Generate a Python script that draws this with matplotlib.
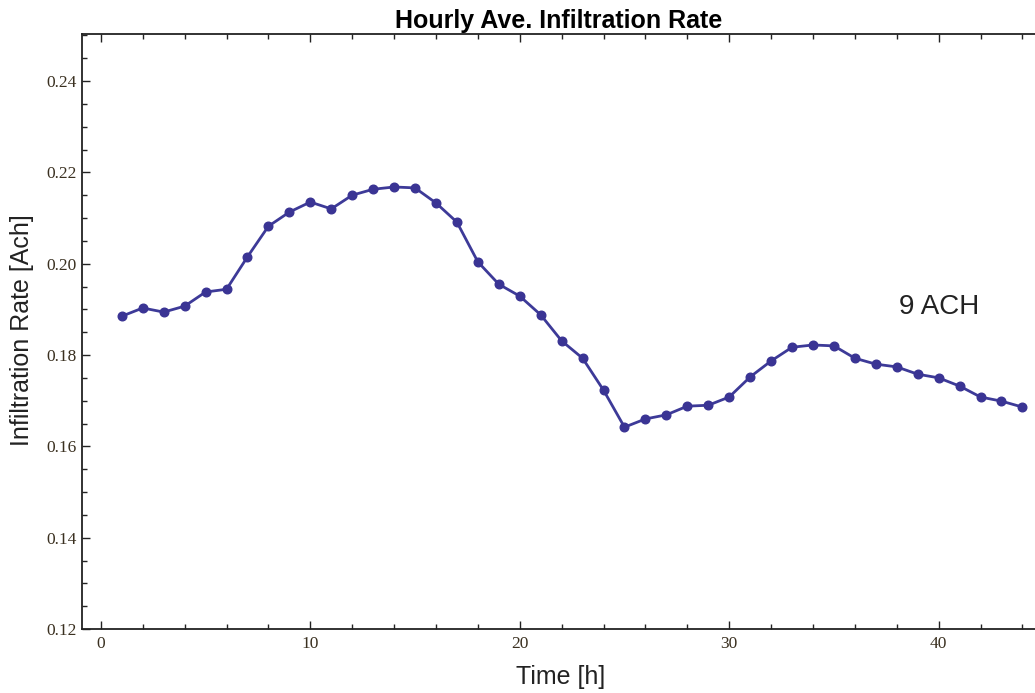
import matplotlib
matplotlib.use("Agg")
import matplotlib.pyplot as plt
from matplotlib.ticker import MultipleLocator

hours = list(range(1, 45))
rate = [0.1885, 0.1903, 0.1894, 0.1907, 0.1938, 0.1944, 0.2015, 0.2082, 0.2113, 0.2135,
        0.2120, 0.2150, 0.2163, 0.2168, 0.2166, 0.2133, 0.2091, 0.2004, 0.1955, 0.1929,
        0.1888, 0.1831, 0.1793, 0.1723, 0.1642, 0.1660, 0.1669, 0.1688, 0.1690, 0.1708,
        0.1752, 0.1787, 0.1817, 0.1822, 0.1820, 0.1793, 0.1780, 0.1774, 0.1758, 0.1750,
        0.1732, 0.1708, 0.1699, 0.1686]

title = "Hourly Ave. Infiltration Rate"
xlabel = "Time [h]"
ylabel = "Infiltration Rate [Ach]"
annotation = "9 ACH"

W, H = 1035, 693
fig = plt.figure(figsize=(W / 100, H / 100), dpi=100)
left, right, top, bottom = 82, 1035, 34, 629
ax = fig.add_axes([left / W, 1 - bottom / H, (right - left) / W, (bottom - top) / H])

color = "#3d3a98"
ax.plot(hours, rate, color=color, lw=2.0, marker="o", ms=6.2,
        markerfacecolor="#3a3494", markeredgecolor="#3a3494", zorder=3)

ax.set_xlim(-0.9, 44.6)
ax.set_ylim(0.12, 0.2503)

ax.xaxis.set_major_locator(MultipleLocator(10))
ax.xaxis.set_minor_locator(MultipleLocator(2))
ax.yaxis.set_major_locator(MultipleLocator(0.02))
ax.yaxis.set_minor_locator(MultipleLocator(0.005))
ax.yaxis.set_major_formatter(plt.FuncFormatter(lambda v, p: f"{v:.2f}"))

ax.tick_params(which="both", direction="in", top=True, right=False, width=1.0,
               color="#222222", labelsize=12.5, labelcolor="#3a3020")
ax.tick_params(axis="y", pad=4)
ax.tick_params(axis="x", pad=5)
ax.tick_params(which="major", length=6)
ax.tick_params(which="minor", length=3.6)
for lab in ax.get_xticklabels() + ax.get_yticklabels():
    lab.set_fontfamily("Liberation Serif")

for s in ["left", "bottom", "top"]:
    ax.spines[s].set_linewidth(1.3)
    ax.spines[s].set_color("#222222")
ax.spines["right"].set_visible(False)

fig.text((left + right) / 2 / W, 1 - 28 / H, title, ha="center", va="baseline",
         fontsize=18, fontweight="bold", family="Liberation Sans")
fig.text(22 / W, 1 - 330 / H, ylabel, rotation=90, ha="center", va="center",
         fontsize=18, family="Liberation Sans", color="#222222")
fig.text(561 / W, 1 - 677 / H, xlabel, ha="center", va="center",
         fontsize=18, family="Liberation Sans", color="#222222")
ax.text(40, 0.1905, annotation, ha="center", va="center", fontsize=20,
        family="Liberation Sans", color="#222222")

fig.savefig("out.png", dpi=100)
